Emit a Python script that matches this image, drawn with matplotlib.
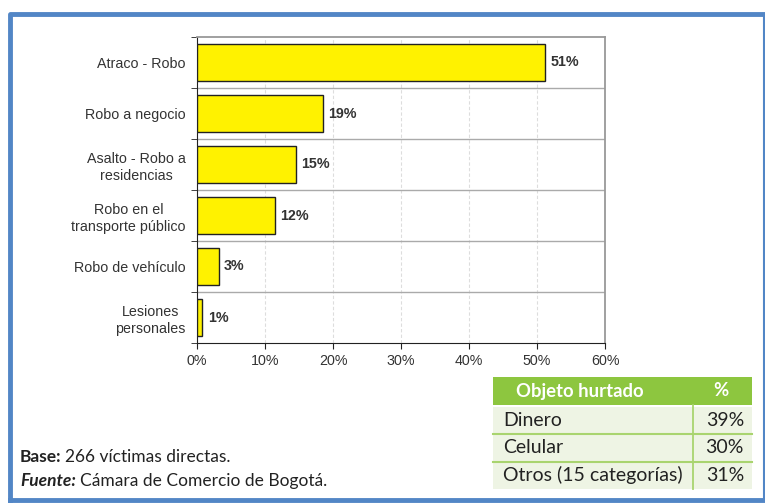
import matplotlib
matplotlib.use("Agg")
import numpy as np
import matplotlib.pyplot as plt
from matplotlib.patches import Rectangle

plt.rcParams.update({"font.family": ["Liberation Sans", "DejaVu Sans"]})

categories = ["Atraco - Robo", "Robo a negocio", "Asalto - Robo a\nresidencias",
              "Robo en el\ntransporte público", "Robo de vehículo", "Lesiones\npersonales"]
values = [51.2, 18.5, 14.5, 11.4, 3.2, 0.8]
value_labels = ["51%", "19%", "15%", "12%", "3%", "1%"]
x_ticks = [0, 10, 20, 30, 40, 50, 60]

table_header = ["Objeto hurtado", "%"]
table_items = ["Dinero", "Celular", "Otros (15 categorías)"]
table_pcts = ["39%", "30%", "31%"]

W, H = 765, 503
BLUE = "#5286c6"; YEL = "#fff200"; GRN = "#8dc63f"; LGRN = "#eef4e4"; INK = "#333333"
HUM = ["Lato", "DejaVu Sans"]

fig = plt.figure(figsize=(W / 100, H / 100), dpi=100)

# ---------- bar chart ----------
L, R, T, B = 197, 605, 37, 343
ax = fig.add_axes([L / W, 1 - B / H, (R - L) / W, (B - T) / H])
y = np.arange(len(categories))
ax.barh(y, values, height=0.71, color=YEL, edgecolor="#222222", lw=1.0, zorder=3)
for yi, v, lab in zip(y, values, value_labels):
    ax.text(v + 0.8, yi, lab, va="center", ha="left", fontsize=10.3,
            fontweight="bold", color=INK, zorder=4)

ax.set_xlim(0, 60)
ax.set_ylim(len(categories) - 0.5, -0.5)
ax.set_xticks(x_ticks)
ax.set_xticklabels([f"{t}%" for t in x_ticks], fontsize=10.3, color=INK)
ax.set_yticks(y)
ax.set_yticklabels(categories, fontsize=10.3, color=INK, multialignment="center",
                   linespacing=1.25)
ax.tick_params(axis="y", which="major", length=0, pad=8)
ax.set_yticks(np.arange(-0.5, len(categories)), minor=True)
ax.tick_params(axis="y", which="minor", length=4, direction="out", color="#222222")
ax.tick_params(axis="x", length=4, direction="out", color="#222222", pad=4)

for xv in x_ticks[1:-1]:
    ax.axvline(xv, color="#dddddd", lw=0.8, ls=(0, (3, 2)), zorder=1)
for yb in np.arange(0.5, len(categories) - 1):
    ax.axhline(yb, color="#aaaaaa", lw=1.0, zorder=1)

ax.spines["left"].set_color("#222222")
ax.spines["bottom"].set_color("#222222")
for s in ("top", "right"):
    ax.spines[s].set_color("#999999")
    ax.spines[s].set_linewidth(1.3)

# ---------- overlay in pixel coordinates: frame, table, notes ----------
ov = fig.add_axes([0, 0, 1, 1], zorder=5)
ov.set_xlim(0, W); ov.set_ylim(H, 0); ov.axis("off")
ov.patch.set_alpha(0)

# blue frame: thick left/top/bottom, thin right
ov.plot([10, 10, 764], [500, 13.5, 13.5], color=BLUE, lw=3.5, solid_capstyle="projecting")
ov.plot([10, 764], [500, 500], color=BLUE, lw=3.5)
ov.plot([764, 764], [13.5, 500], color=BLUE, lw=1.5)

tx0, tx1, tdiv = 493, 752, 693
hy0, hy1 = 377, 405
ov.add_patch(Rectangle((tx0, hy0), tx1 - tx0, hy1 - hy0, color=GRN, lw=0))
ov.text(580, (hy0 + hy1) / 2, table_header[0], ha="center", va="center",
        fontsize=13.3, fontweight="bold", color="white", family=HUM)
ov.text(721, (hy0 + hy1) / 2, table_header[1], ha="center", va="center",
        fontsize=13.3, fontweight="bold", color="white", family=HUM)
row_h = 27.5
ov.add_patch(Rectangle((tx0, hy1 + 1.5), tx1 - tx0, row_h * 3, color=LGRN, lw=0))
for i, (item, pct) in enumerate(zip(table_items, table_pcts)):
    ry = hy1 + 1.5 + row_h * i
    ov.text(tx0 + 10, ry + row_h / 2, item, ha="left", va="center", fontsize=14,
            color="#222222", family=HUM)
    ov.text(tx1 - 8, ry + row_h / 2, pct, ha="right", va="center", fontsize=14,
            color="#222222", family=HUM)
    if i > 0:
        ov.plot([tx0, tx1], [ry, ry], color="#a9d46f", lw=1.5)
ov.plot([tdiv, tdiv], [hy1, hy1 + 1.5 + row_h * 3], color="#a9d46f", lw=1.3)

# notes: bold lead-in followed by regular text
renderer = fig.canvas.get_renderer()
notes = [(457, "Base:", "normal", "266 víctimas directas."),
         (481, "Fuente:", "italic", "Cámara de Comercio de Bogotá.")]
for ny, lead, st, rest in notes:
    t = ov.text(20, ny, lead, ha="left", va="center", fontsize=12.5, fontweight="bold",
                style=st, color="#222222", family=HUM)
    bb = t.get_window_extent(renderer)
    ov.text(bb.x1 + 4, ny, rest, ha="left", va="center", fontsize=12.5,
            color="#222222", family=HUM)

fig.savefig("out.png", dpi=100, facecolor="white")
